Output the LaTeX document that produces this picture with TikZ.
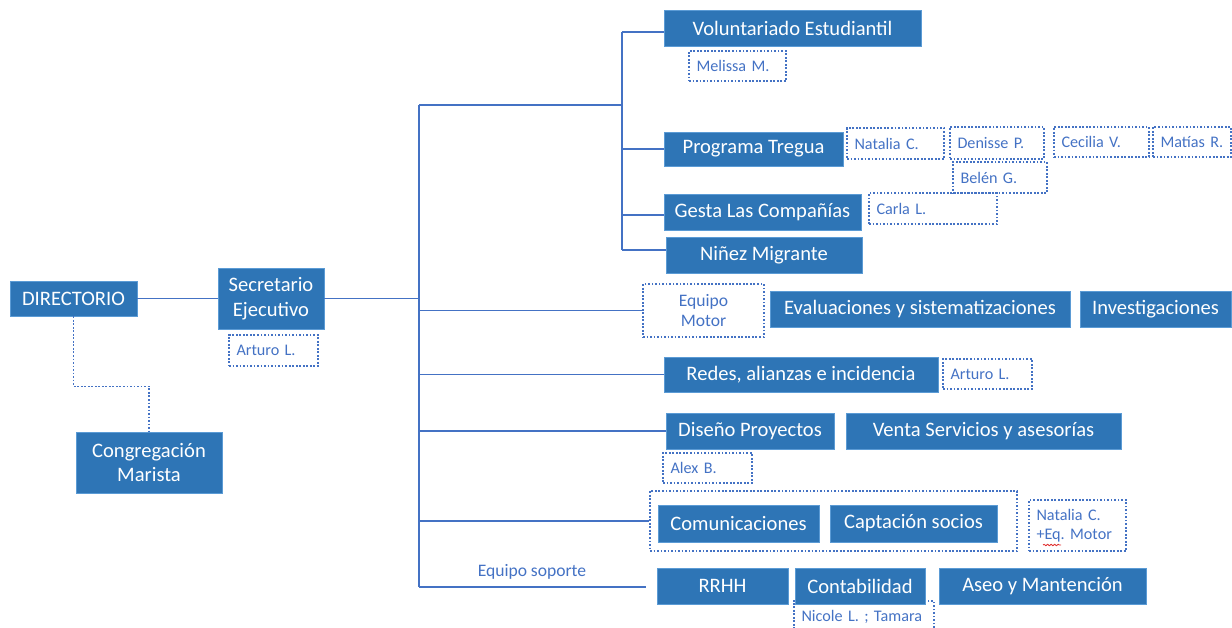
\documentclass[tikz,border=0pt]{standalone}
\usepackage{fontspec}
\setmainfont{Carlito}
\usetikzlibrary{decorations.pathmorphing}
\definecolor{boxblue}{HTML}{2E75B6}
\definecolor{edgeblue}{HTML}{5B9BD5}
\definecolor{lineblue}{HTML}{4472C4}
\definecolor{nameblue}{HTML}{4472C4}
\definecolor{spellred}{HTML}{E03030}

\begin{document}
\begin{tikzpicture}[
  finedots/.style={dash pattern=on 1pt off 1pt},
  unit/.style={fill=boxblue, draw=edgeblue, line width=0.4pt, text=white, inner sep=0pt, align=center, font=\fontsize{11.7}{14.2}\selectfont},
  person/.style={draw=nameblue, finedots, line width=0.8pt, text=nameblue, inner xsep=0.15cm, inner ysep=0pt, align=left, font=\fontsize{9.2}{10.8}\selectfont\frenchspacing},
  link/.style={draw=lineblue, line width=0.7pt}
]
\useasboundingbox (0,0) rectangle (24.64,-12.56);

% Direction
\node[unit, minimum width=2.54cm, minimum height=0.70cm] (dir) at (1.47,-5.97) {DIRECTORIO};
\node[unit, minimum width=2.12cm, minimum height=1.22cm] (sec) at (5.42,-5.97) {Secretario\\Ejecutivo};
\node[person, text width=1.48cm, minimum height=0.62cm] (secname) at (5.47,-7.01) {Arturo L.};
\node[unit, minimum width=2.92cm, minimum height=1.22cm] (cong) at (2.98,-9.25) {Congregación\\Marista};

% Programs
\node[unit, minimum width=5.14cm, minimum height=0.72cm] (vol) at (15.85,-0.56) {Voluntariado Estudiantil};
\node[person, text width=1.64cm, minimum height=0.60cm] (melissa) at (14.75,-1.32) {Melissa M.};
\node[unit, minimum width=3.58cm, minimum height=0.68cm] (tregua) at (15.07,-2.98) {Programa Tregua};
\node[person, text width=1.64cm, minimum height=0.62cm] (natalia) at (17.91,-2.87) {Natalia C.};
\node[person, text width=1.58cm, minimum height=0.64cm] (denisse) at (19.94,-2.86) {Denisse P.};
\node[person, text width=1.60cm, minimum height=0.60cm] (cecilia) at (22.03,-2.84) {Cecilia V.};
\node[person, text width=1.26cm, minimum height=0.60cm] (matias) at (23.84,-2.84) {\mbox{Matías R.}};
\node[person, text width=1.58cm, minimum height=0.62cm] (belen) at (20.00,-3.55) {Belén G.};
\node[unit, minimum width=3.94cm, minimum height=0.72cm] (gesta) at (15.25,-4.24) {Gesta Las Compañías};
\node[person, text width=2.26cm, minimum height=0.62cm] (carla) at (18.66,-4.17) {Carla L.};
\node[unit, minimum width=3.92cm, minimum height=0.72cm] (ninez) at (15.28,-5.10) {Niñez Migrante};

% Studies
\node[person, align=center, text width=2.12cm, minimum height=1.06cm, font=\fontsize{10}{11.3}\selectfont] (motor) at (14.07,-6.21) {Equipo\\Motor};
\node[unit, minimum width=6.00cm, minimum height=0.72cm] (evalua) at (18.40,-6.18) {Evaluaciones y sistematizaciones};
\node[unit, minimum width=3.02cm, minimum height=0.72cm] (invest) at (23.11,-6.18) {Investigaciones};

% Networks and projects
\node[unit, minimum width=5.48cm, minimum height=0.70cm] (redes) at (16.02,-7.49) {Redes, alianzas e incidencia};
\node[person, text width=1.48cm, minimum height=0.60cm] (arturo) at (19.75,-7.48) {Arturo L.};
\node[unit, minimum width=3.36cm, minimum height=0.72cm] (diseno) at (15.00,-8.62) {Diseño Proyectos};
\node[unit, minimum width=5.50cm, minimum height=0.72cm] (venta) at (19.67,-8.62) {Venta Servicios y asesorías};
\node[person, text width=1.48cm, minimum height=0.60cm] (alex) at (14.15,-9.36) {Alex B.};

% Communications
\node[draw=nameblue, finedots, line width=0.8pt, minimum width=7.34cm, minimum height=1.20cm] (comgroup) at (16.67,-10.42) {};
\node[unit, minimum width=3.22cm, minimum height=0.74cm] (comunic) at (14.77,-10.47) {Comunicaciones};
\node[unit, minimum width=3.34cm, minimum height=0.74cm] (captacion) at (18.27,-10.47) {Captación socios};
\node[person, text width=1.64cm, minimum height=1.02cm] (natmotor) at (21.55,-10.51) {\mbox{Natalia C.}\\\mbox{+Eq. Motor}};
\draw[spellred, line width=0.5pt, decorate, decoration={snake, amplitude=0.4pt, segment length=2pt}] (20.86,-10.90) -- (21.22,-10.90);

% Support team
\node[text=nameblue, font=\fontsize{10}{12}\selectfont] (soporte) at (10.64,-11.44) {Equipo soporte};
\node[unit, minimum width=2.62cm, minimum height=0.72cm] (rrhh) at (14.45,-11.72) {RRHH};
\node[person, text width=2.50cm, minimum height=0.62cm] (nicole) at (17.28,-12.33) {\mbox{Nicole L. ; Tamara}};
\node[unit, minimum width=2.60cm, minimum height=0.72cm] (conta) at (17.20,-11.72) {Contabilidad};
\node[unit, minimum width=4.14cm, minimum height=0.72cm] (aseo) at (20.85,-11.72) {Aseo y Mantención};

% Trunk lines
\coordinate (trunktop) at (8.38,-2.10);
\coordinate (trunkbot) at (8.38,-11.74);
\coordinate (branch) at (12.44,-2.10);
\coordinate (soporteend) at (12.92,-11.74);
\coordinate (volin) at ([yshift=-0.08cm]vol.west);
\coordinate (gestain) at ([yshift=-0.06cm]gesta.west);
\coordinate (ninezin) at ([yshift=0.10cm]ninez.west);
\draw[link] (dir) -- (sec);
\draw[link] (sec.east) -- (sec.east -| trunktop);
\draw[link] (trunktop) -- (trunkbot);
\draw[link] (trunktop) -- (branch);
\draw[link] (branch |- volin) -- (branch |- ninezin);
\draw[link] (branch |- volin) -- (volin);
\draw[link] (branch |- tregua.west) -- (tregua.west);
\draw[link] (branch |- gestain) -- (gestain);
\draw[link] (branch |- ninezin) -- (ninezin);
\draw[link] (trunktop |- motor.west) -- (motor.west);
\draw[link] (trunktop |- redes.west) -- (redes.west);
\draw[link] (trunktop |- diseno.west) -- (diseno.west);
\draw[link] (trunktop |- comgroup.west) -- (comgroup.west);
\draw[link] (trunkbot) -- (soporteend);

% Dotted link to the congregation
\draw[lineblue, finedots, line width=0.8pt] (dir.south) -- ++(0,-1.40) -| (cong.north);
\end{tikzpicture}
\end{document}
